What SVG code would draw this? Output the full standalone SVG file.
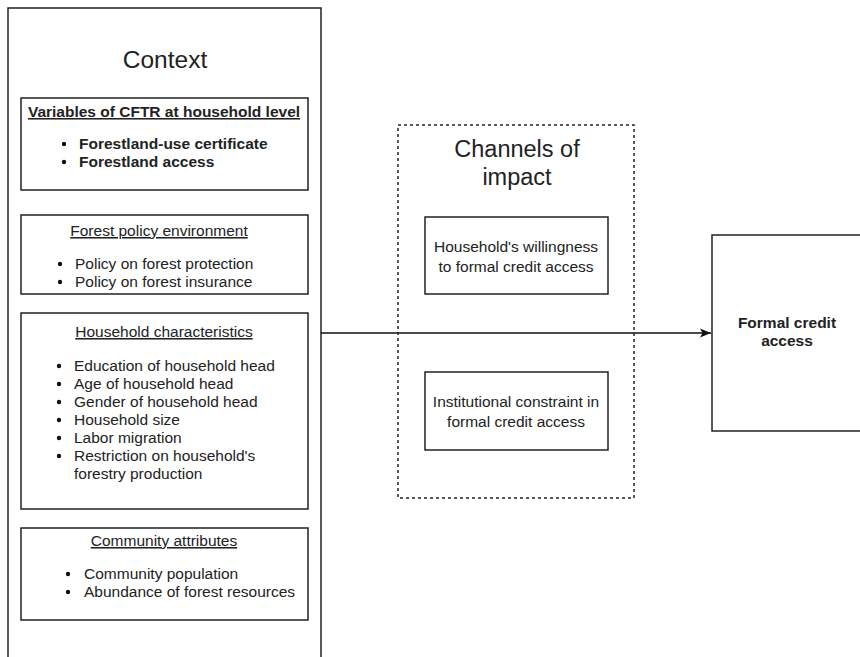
<svg xmlns="http://www.w3.org/2000/svg" width="860" height="657" viewBox="0 0 860 657">
<defs>
<style>
text{font-family:"Liberation Sans",Arial,sans-serif;fill:#222;}
.box{fill:#fff;stroke:#222;stroke-width:1.5;}
.t{font-size:15.5px;text-decoration:underline;text-anchor:middle;}
.b{font-size:15.5px;}
.c{font-size:15.5px;text-anchor:middle;}
</style>
<marker id="arr" markerWidth="12" markerHeight="12" refX="11" refY="6" orient="auto" markerUnits="userSpaceOnUse">
<path d="M0,1.5 L11,6 L0,10.5 L2.5,6 Z" fill="#111"/>
</marker>
</defs>
<rect width="860" height="657" fill="#fff"/>
<g id="context">
<rect class="box" x="8" y="8" width="313" height="660"/>
<text x="165" y="68" font-size="24.5" text-anchor="middle">Context</text>
</g>
<g id="cftr">
<rect class="box" x="21" y="98" width="287" height="92"/>
<text class="t" x="164" y="117" font-weight="bold">Variables of CFTR at household level</text>
<text class="b" x="79" y="149" font-weight="bold">Forestland-use certificate</text>
<text class="b" x="79" y="167" font-weight="bold">Forestland access</text>
<circle cx="64" cy="144" r="2.2" fill="#111"/>
<circle cx="64" cy="162" r="2.2" fill="#111"/>
</g>
<g id="policy">
<rect class="box" x="21" y="215" width="287" height="79"/>
<text class="t" x="159" y="236">Forest policy environment</text>
<text class="b" x="75" y="269">Policy on forest protection</text>
<text class="b" x="75" y="287">Policy on forest insurance</text>
<circle cx="60" cy="264" r="2.2" fill="#111"/>
<circle cx="60" cy="282" r="2.2" fill="#111"/>
</g>
<g id="household">
<rect class="box" x="21" y="313" width="287" height="196"/>
<text class="t" x="164" y="337">Household characteristics</text>
<text class="b" x="74" y="371">Education of household head</text>
<text class="b" x="74" y="389">Age of household head</text>
<text class="b" x="74" y="407">Gender of household head</text>
<text class="b" x="74" y="425">Household size</text>
<text class="b" x="74" y="443">Labor migration</text>
<text class="b" x="74" y="461">Restriction on household's</text>
<text class="b" x="74" y="479">forestry production</text>
<circle cx="59" cy="366" r="2.2" fill="#111"/>
<circle cx="59" cy="384" r="2.2" fill="#111"/>
<circle cx="59" cy="402" r="2.2" fill="#111"/>
<circle cx="59" cy="420" r="2.2" fill="#111"/>
<circle cx="59" cy="438" r="2.2" fill="#111"/>
<circle cx="59" cy="456" r="2.2" fill="#111"/>
</g>
<g id="community">
<rect class="box" x="21" y="528" width="287" height="92"/>
<text class="t" x="164" y="546">Community attributes</text>
<text class="b" x="84" y="579">Community population</text>
<text class="b" x="84" y="597">Abundance of forest resources</text>
<circle cx="68" cy="574" r="2.2" fill="#111"/>
<circle cx="68" cy="592" r="2.2" fill="#111"/>
</g>
<g id="connectors">
<line x1="321" y1="333" x2="711" y2="333" stroke="#111" stroke-width="1.5" marker-end="url(#arr)"/>
</g>
<g id="channels">
<rect x="398" y="125" width="236" height="373" fill="none" stroke="#222" stroke-width="1.5" stroke-dasharray="3,3"/>
<text x="517" y="157" font-size="23.5" text-anchor="middle">Channels of</text>
<text x="517" y="185" font-size="23.5" text-anchor="middle">impact</text>
</g>
<g id="willingness">
<rect class="box" x="425" y="217" width="183" height="77"/>
<text class="c" x="516" y="252">Household's willingness</text>
<text class="c" x="516" y="272">to formal credit access</text>
</g>
<g id="constraint">
<rect class="box" x="425" y="372" width="183" height="78"/>
<text class="c" x="516" y="407">Institutional constraint in</text>
<text class="c" x="516" y="427">formal credit access</text>
</g>
<g id="formal">
<rect class="box" x="712" y="235" width="160" height="196"/>
<text class="c" x="787" y="328" font-weight="bold">Formal credit</text>
<text class="c" x="787" y="346" font-weight="bold">access</text>
</g>
</svg>
